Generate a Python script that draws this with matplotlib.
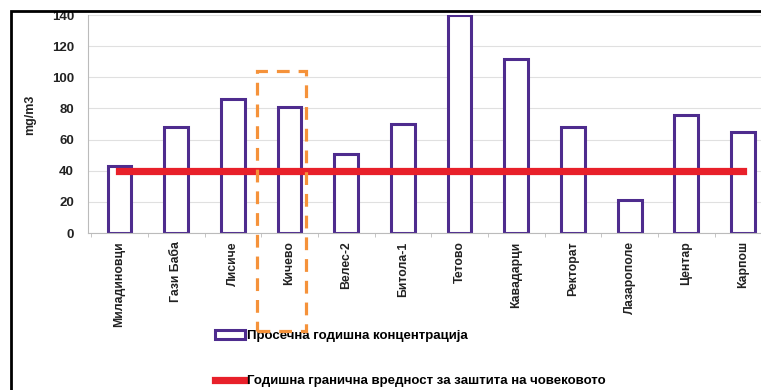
import matplotlib
matplotlib.use("Agg")
import matplotlib.pyplot as plt
from matplotlib.patches import Rectangle
import numpy as np

plt.rcParams['font.family'] = ['Liberation Sans', 'DejaVu Sans']

# Monitoring stations and annual mean concentrations
stations = ["Миладиновци", "Гази Баба", "Лисиче", "Кичево", "Велес-2", "Битола-1",
            "Тетово", "Кавадарци", "Ректорат", "Лазарополе", "Центар", "Карпош"]
annual_mean = [43, 68, 86, 81, 51, 70, 140, 112, 68, 21, 76, 65]
limit_value = 40
y_ticks = [0, 20, 40, 60, 80, 100, 120, 140]

bar_label = "Просечна годишна концентрација"
limit_label = "Годишна гранична вредност за заштита на човековото"

W, H = 761, 390
fig = plt.figure(figsize=(W / 100, H / 100), dpi=100)
fig.patch.set_facecolor("white")

ax = fig.add_axes([88 / W, 1 - 233 / H, 683.3 / W, 218 / H])

x = np.arange(len(stations)) + 0.5
purple = "#4E2C8E"
red = "#E8202A"

bars = ax.bar(x, annual_mean, width=0.42, facecolor="white", edgecolor=purple,
              linewidth=2.2, zorder=2)
limit_line, = ax.plot([x[0], x[-1]], [limit_value, limit_value], color=red,
                      linewidth=5.2, solid_capstyle="projecting", zorder=3)

ax.set_xlim(-0.0557, len(stations))
ax.set_ylim(0, 140)
ax.set_yticks(y_ticks)
ax.set_yticklabels([str(v) for v in y_ticks], fontsize=9.5, fontweight="bold",
                   color="#222222")
ax.set_xticks(x)
ax.set_xticklabels(stations, rotation=90, fontsize=8.8, fontweight="bold",
                   color="#222222")
ax.tick_params(axis="y", length=0, pad=10)
ax.tick_params(axis="x", length=0, pad=6)
ax.set_xticks(np.arange(len(stations) + 1), minor=True)
ax.tick_params(axis="x", which="minor", length=3, color="#BBBBBB")

ax.grid(axis="y", color="#E0E0E0", linewidth=0.8, zorder=0)
ax.set_axisbelow(True)
for side in ["top", "right"]:
    ax.spines[side].set_visible(False)
for side in ["left", "bottom"]:
    ax.spines[side].set_color("#BBBBBB")
    ax.spines[side].set_linewidth(0.8)

fig.text(30 / W, 1 - 115 / H, "mg/m3", rotation=90, ha="center", va="center",
         fontsize=9, fontweight="bold", color="#222222")

# Legend below the axis labels
ax.legend([bars, limit_line], [bar_label, limit_label],
          loc="upper left", bbox_to_anchor=(215 / W, 1 - 330 / H),
          bbox_transform=fig.transFigure, frameon=False,
          prop={"weight": "bold", "size": 9.5}, handlelength=2.3,
          handletextpad=0.15, labelspacing=2.5, borderpad=0, borderaxespad=0)

# Highlight box around one station
fig.patches.append(Rectangle((256.7 / W, 1 - 331 / H), 48.8 / W, 260 / H,
                             transform=fig.transFigure, fill=False,
                             edgecolor="#F5923A", linewidth=2.3,
                             linestyle=(0, (4, 2.8)), zorder=5))

# Outer frame
fig.patches.append(Rectangle((11 / W, -0.2), 1.2, 1.2 - 10.5 / H,
                             transform=fig.transFigure, fill=False,
                             edgecolor="black", linewidth=2.0, zorder=6))

fig.savefig("out.png", dpi=100, facecolor="white")
